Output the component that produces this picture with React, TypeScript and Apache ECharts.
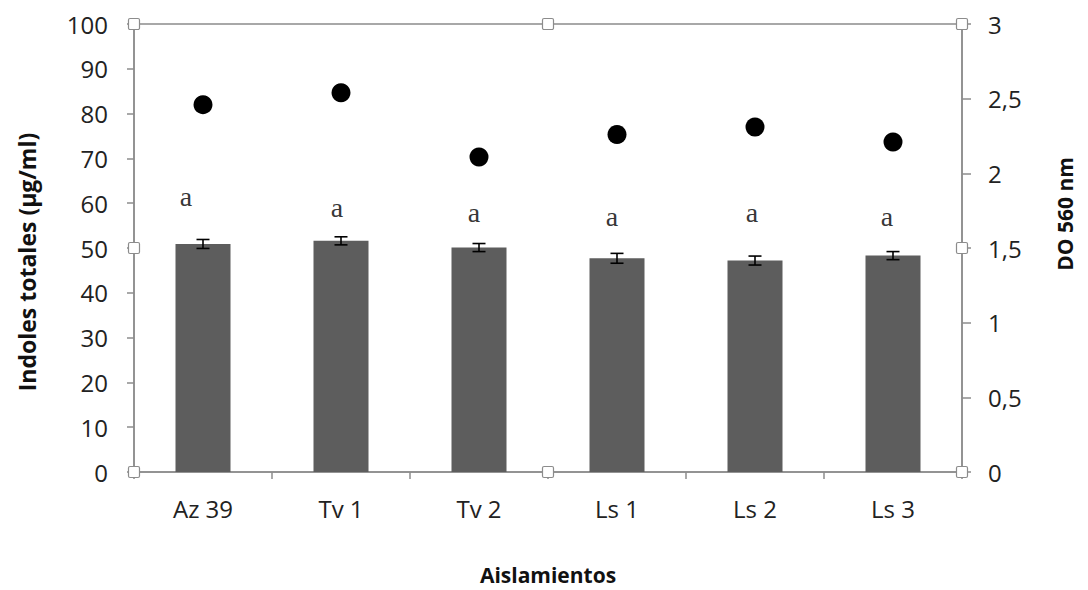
import React, { useEffect, useRef } from "react";
import * as echarts from "echarts";

// Isolates on the category axis
const categories = ["Az 39", "Tv 1", "Tv 2", "Ls 1", "Ls 2", "Ls 3"];
// Total indoles (µg/ml), bar heights and standard errors
const indoles = [50.9, 51.6, 50.1, 47.7, 47.2, 48.3];
const indolesErr = [1.0, 0.9, 0.9, 1.1, 1.0, 0.9];
// Optical density at 560 nm (right axis)
const od560 = [2.46, 2.54, 2.11, 2.26, 2.31, 2.21];
// Significance letters and the height (left-axis units) they sit at
const letters = ["a", "a", "a", "a", "a", "a"];
const letterLevel = [61.6, 59.1, 58.0, 57.0, 57.9, 57.0];
// Left / right axis ranges
const leftMax = 100;
const leftStep = 10;
const rightMax = 3;
const rightStep = 0.5;

// Layout
const W = 1088;
const H = 590;
const G = { left: 134, top: 24, right: 126, bottom: 118 };
const letterDx = [-17, -4, -5, -5, -3, -6];
const AXIS = "#8c8c8c";
const FONT = "'Open Sans', 'Liberation Sans', sans-serif";

export default function App() {
  const ref = useRef<HTMLDivElement>(null);

  useEffect(() => {
    if (!ref.current) return;
    const chart = echarts.init(ref.current, null, { renderer: "svg" });

    const gx0 = G.left;
    const gx1 = W - G.right;
    const gy0 = G.top;
    const gy1 = H - G.bottom;
    const gxm = (gx0 + gx1) / 2;
    const gym = (gy0 + gy1) / 2;
    const handlePts = [
      [gx0, gy0], [gxm, gy0], [gx1, gy0],
      [gx0, gym], [gx1, gym],
      [gx0, gy1], [gxm, gy1], [gx1, gy1],
    ];
    const hs = 11;

    chart.setOption({
      animation: false,
      backgroundColor: "#ffffff",
      grid: {
        left: G.left,
        top: G.top,
        right: G.right,
        bottom: G.bottom,
        show: true,
        borderColor: AXIS,
        borderWidth: 1.5,
        backgroundColor: "transparent",
      },
      xAxis: {
        type: "category",
        data: categories,
        boundaryGap: true,
        axisLine: { lineStyle: { color: AXIS, width: 1.5 } },
        axisTick: { show: true, alignWithLabel: false, length: 7, lineStyle: { color: AXIS, width: 1.5 } },
        axisLabel: { color: "#222", fontFamily: FONT, fontSize: 24, margin: 24 },
      },
      yAxis: [
        {
          type: "value",
          min: 0,
          max: leftMax,
          interval: leftStep,
          position: "left",
          splitLine: { show: false },
          axisLine: { show: true, lineStyle: { color: AXIS, width: 1.5 } },
          axisTick: { show: true, length: 7, lineStyle: { color: AXIS, width: 1.5 } },
          axisLabel: { color: "#222", fontFamily: FONT, fontSize: 24, margin: 26 },
        },
        {
          type: "value",
          min: 0,
          max: rightMax,
          interval: rightStep,
          position: "right",
          splitLine: { show: false },
          axisLine: { show: true, lineStyle: { color: AXIS, width: 1.5 } },
          axisTick: { show: true, length: 9, lineStyle: { color: AXIS, width: 1.5 } },
          axisLabel: {
            color: "#222",
            fontFamily: FONT,
            fontSize: 24,
            margin: 26,
            formatter: (v: number) => String(v).replace(".", ","),
          },
        },
      ],
      series: [
        {
          type: "bar",
          data: indoles,
          yAxisIndex: 0,
          barWidth: 55,
          itemStyle: { color: "#5d5d5d" },
          z: 2,
        },
        {
          type: "custom",
          yAxisIndex: 0,
          data: indoles.map((v, i) => [i, v - indolesErr[i], v + indolesErr[i]]),
          renderItem: (params: any, api: any) => {
            const x = api.value(0);
            const lo = api.coord([x, api.value(1)]);
            const hi = api.coord([x, api.value(2)]);
            const cap = 6.5;
            const style = { stroke: "#000", lineWidth: 1.6 };
            return {
              type: "group",
              children: [
                { type: "line", shape: { x1: lo[0], y1: lo[1], x2: hi[0], y2: hi[1] }, style },
                { type: "line", shape: { x1: lo[0] - cap, y1: lo[1], x2: lo[0] + cap, y2: lo[1] }, style },
                { type: "line", shape: { x1: hi[0] - cap, y1: hi[1], x2: hi[0] + cap, y2: hi[1] }, style },
              ],
            };
          },
          z: 3,
        },
        {
          type: "scatter",
          yAxisIndex: 1,
          data: od560,
          symbol: "circle",
          symbolSize: 19,
          itemStyle: { color: "#000", opacity: 1 },
          z: 4,
        },
        {
          type: "scatter",
          yAxisIndex: 0,
          symbolSize: 0,
          data: letterLevel.map((v, i) => ({
            value: [i, v],
            label: { offset: [letterDx[i], 0] },
          })),
          label: {
            show: true,
            position: "inside",
            formatter: (p: any) => letters[p.dataIndex],
            fontFamily: "'Liberation Serif', 'DejaVu Serif', serif",
            fontSize: 28,
            color: "#000",
          },
          z: 5,
        },
      ],
      graphic: [
        {
          type: "text",
          x: 27,
          y: 262,
          rotation: Math.PI / 2,
          style: {
            text: "Indoles totales (µg/ml)",
            fontFamily: FONT,
            fontWeight: "bold",
            fontSize: 23,
            fill: "#111",
            align: "center",
            verticalAlign: "middle",
          },
        },
        {
          type: "text",
          x: 1065,
          y: 214,
          rotation: Math.PI / 2,
          style: {
            text: "DO 560 nm",
            fontFamily: FONT,
            fontWeight: "bold",
            fontSize: 21,
            fill: "#111",
            align: "center",
            verticalAlign: "middle",
          },
        },
        {
          type: "text",
          x: gxm,
          y: 575,
          style: {
            text: "Aislamientos",
            fontFamily: FONT,
            fontWeight: "bold",
            fontSize: 21,
            fill: "#111",
            align: "center",
            verticalAlign: "middle",
          },
        },
        ...handlePts.map(([x, y]) => ({
          type: "rect",
          z: 100,
          shape: { x: x - hs / 2, y: y - hs / 2, width: hs, height: hs, r: 1.5 },
          style: { fill: "#ffffff", stroke: AXIS, lineWidth: 1.2 },
        })),
      ],
    });

    return () => chart.dispose();
  }, []);

  return (
    <div
      ref={ref}
      style={{ position: "fixed", left: 0, top: 0, width: W, height: H, background: "#fff" }}
    />
  );
}
